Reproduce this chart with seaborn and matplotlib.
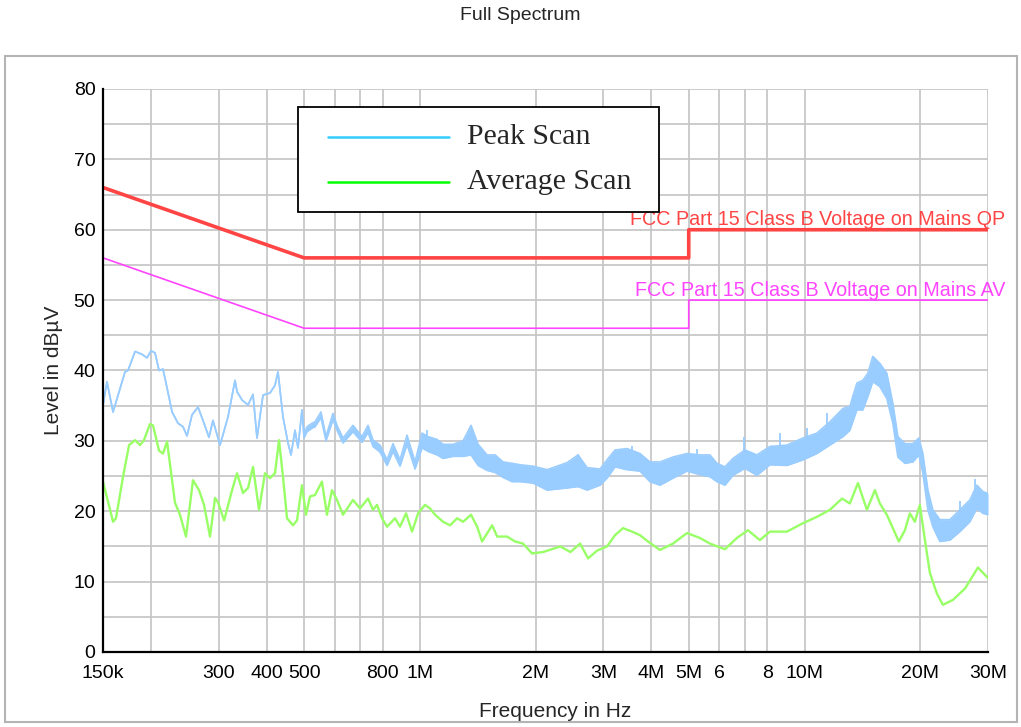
import numpy as np
import matplotlib
matplotlib.use('Agg')
import matplotlib.pyplot as plt
from matplotlib.patches import Rectangle
from matplotlib.ticker import NullLocator, MultipleLocator
import seaborn as sns

# --- data (frequency in kHz, level in dBuV) ---
peak_khz = [150, 153.6, 159.3, 171.1, 174.2, 181.7, 189.4, 195.2, 200, 204.8,
            209.8, 214.8, 220.1, 226.8, 235.0, 242.2, 248.0, 255.6, 264.9, 272.9,
            282.9, 289.7, 302.2, 317.0, 330.6, 334.6, 344.8, 357.4, 368.2, 377.1,
            390.9, 407.6, 420.0, 427.6, 440.6, 454.0, 462.2, 473.4, 482.0, 493.6,
            499.6, 508.6, 524.1, 533.6, 553.1, 569.9, 594.3, 608.8, 631.0, 670.0,
            707.1, 733.0, 755.3, 787.6, 821.4, 851.4, 887.8, 925.8, 971.4,
            1013, 1050, 1108, 1149, 1220, 1295, 1358, 1417, 1495, 1569,
            1646, 1737, 1822, 1969, 2141, 2413, 2578, 2720, 2940, 3066,
            3216, 3455, 3734, 3964, 4209, 4550, 4948, 5347, 5677, 5920,
            6210, 6515, 6999, 7521, 8129, 9000, 9907, 10770, 11640, 12590,
            13120, 13680, 14180, 14610, 15050, 15700, 16370, 16970, 17490, 18240,
            19130, 19830, 20310, 20930, 21560, 22490, 23880, 25350, 26910, 28060,
            29090, 30000]
peak_hi = [35.1, 38.4, 34.1, 39.8, 40.0, 42.7, 42.3, 41.8, 42.8, 42.5,
           40.0, 40.2, 37.5, 34.1, 32.5, 32.0, 30.7, 33.7, 34.8, 32.9,
           30.5, 32.9, 29.4, 33.4, 38.6, 37.0, 35.8, 35.1, 36.6, 30.4,
           36.5, 36.8, 37.9, 39.8, 33.4, 29.7, 28.0, 31.5, 29.0, 34.4,
           31.0, 32.0, 32.5, 32.7, 34.1, 30.6, 33.9, 32.2, 30.4, 32.2,
           30.6, 32.2, 30.1, 29.4, 27.3, 29.6, 27.3, 30.8, 27.0,
           31.1, 30.6, 30.2, 29.5, 29.5, 30.0, 32.2, 29.5, 28.0, 28.0,
           27.0, 26.8, 26.6, 26.4, 25.9, 26.9, 28.0, 26.2, 26.0, 27.3,
           28.7, 28.9, 28.2, 27.0, 27.0, 27.7, 28.2, 28.0, 28.0, 26.8,
           26.3, 27.5, 28.7, 28.0, 29.2, 29.4, 30.4, 31.1, 32.7, 34.6,
           34.9, 38.2, 38.6, 39.6, 42.0, 41.0, 39.6, 35.3, 30.6, 29.6,
           29.6, 30.4, 28.2, 23.0, 20.2, 18.8, 18.8, 20.2, 21.6, 23.7,
           22.8, 22.5]
peak_lo = [35.1, 38.4, 34.1, 39.8, 40.0, 42.7, 42.3, 41.8, 42.8, 42.5,
           40.0, 40.2, 37.5, 34.1, 32.5, 32.0, 30.7, 33.7, 34.8, 32.9,
           30.5, 32.9, 29.4, 33.4, 38.6, 37.0, 35.8, 35.1, 36.6, 30.4,
           36.5, 36.8, 37.9, 39.8, 33.4, 29.7, 28.0, 31.5, 29.0, 34.4,
           30.4, 31.3, 31.8, 32.0, 33.3, 30.0, 33.0, 31.5, 29.7, 31.3,
           29.8, 31.2, 29.2, 28.4, 26.5, 28.5, 26.4, 29.5, 26.0,
           29.0, 28.5, 28.0, 27.5, 27.8, 27.8, 28.0, 26.5, 25.8, 25.5,
           24.8, 24.2, 24.2, 24.0, 23.0, 23.3, 23.5, 23.0, 23.7, 24.7,
           26.3, 25.9, 25.7, 24.2, 23.7, 24.7, 25.7, 25.2, 24.9, 24.2,
           23.7, 25.1, 26.1, 25.1, 26.6, 26.5, 27.3, 28.2, 29.4, 30.6,
           31.5, 34.4, 34.4, 36.3, 38.4, 37.7, 36.0, 32.5, 27.7, 26.8,
           27.0, 28.0, 25.4, 20.2, 17.8, 15.7, 15.9, 17.1, 18.5, 20.4,
           19.7, 19.5]

# narrow noise spikes sticking out of the peak band
spike_khz = [1044, 2578, 3561, 5262, 6958, 8630, 10150, 11430, 13370, 25350, 27740]
spike_base = [29.0, 25.0, 26.5, 26.0, 27.0, 28.0, 29.0, 31.0, 33.0, 18.0, 21.0]
spike_top = [31.5, 28.2, 29.3, 28.8, 30.5, 31.1, 31.8, 34.0, 36.5, 21.5, 24.6]

avg_khz = [150, 159.3, 162.1, 169.1, 175.3, 181.7, 187.2, 191.7, 198.7, 202.3,
           209.8, 214.8, 220.1, 230.8, 237.8, 246.5, 257.1, 266.5, 274.6, 284.6,
           293.4, 298.8, 309.7, 324.8, 334.6, 346.8, 357.4, 368.2, 381.7, 395.6,
           407.6, 420.0, 430.2, 440.6, 451.3, 467.8, 479.2, 493.6, 505.6, 517.9,
           533.6, 556.3, 573.3, 590.7, 608.8, 631.0, 670.0, 698.7, 733.0, 755.3,
           773.6, 797.1, 821.4, 861.6, 887.8, 920.3, 954.3, 989.2, 1031, 1062,
           1095, 1149, 1198, 1250, 1295, 1358, 1409, 1451, 1541, 1588,
           1685, 1767, 1854, 1957, 2090, 2318, 2462, 2609, 2737, 2888,
           3066, 3216, 3374, 3561, 3734, 3917, 4209, 4550, 4948, 5347,
           5677, 6210, 6672, 7127, 7655, 8129, 9000, 9907, 10770, 11640,
           12520, 13120, 13770, 14530, 15240, 15700, 16370, 16970, 17590, 18240,
           18790, 19360, 19950, 20560, 21190, 22090, 22900, 24310, 26130, 28240,
           30000]
avg_level = [24.2, 18.5, 19.0, 24.9, 29.4, 30.1, 29.4, 30.1, 32.4, 32.2,
             28.6, 28.2, 29.9, 21.2, 19.5, 16.4, 24.4, 23.0, 20.9, 16.4,
             21.9, 21.2, 18.7, 23.0, 25.4, 22.6, 23.3, 26.3, 20.2, 25.4,
             24.7, 25.4, 30.1, 24.9, 19.0, 18.0, 18.7, 23.7, 19.5, 22.1,
             22.3, 24.2, 19.5, 23.0, 21.6, 19.5, 21.6, 20.4, 21.8, 20.2,
             20.9, 19.0, 17.8, 19.0, 17.8, 19.7, 17.1, 19.7, 20.9, 20.4,
             19.5, 18.5, 18.0, 19.0, 18.5, 19.5, 17.8, 15.7, 18.0, 16.4,
             16.4, 15.7, 15.4, 14.0, 14.2, 15.0, 14.2, 15.4, 13.3, 14.4,
             15.0, 16.6, 17.6, 17.1, 16.6, 15.7, 14.5, 15.4, 16.9, 16.2,
             15.4, 14.6, 16.2, 17.3, 15.9, 17.1, 17.1, 18.3, 19.2, 20.2,
             21.8, 21.1, 24.0, 20.2, 23.0, 21.1, 19.5, 17.6, 15.7, 17.3,
             19.7, 18.5, 20.9, 15.9, 11.2, 8.3, 6.7, 7.4, 9.0, 12.0,
             10.5]

qp_khz = [150, 500, 5000, 5000, 30000]
qp_level = [66, 56, 56, 60, 60]
av_khz = [150, 500, 5000, 5000, 30000]
av_level = [56, 46, 46, 50, 50]

tick_khz = [150, 200, 300, 400, 500, 600, 700, 800, 1000, 2000, 3000, 4000,
            5000, 6000, 7000, 8000, 10000, 20000, 30000]
tick_labels = ['150k', '', '300', '400', '500', '', '', '800', '1M', '2M', '3M', '4M',
               '5M', '6', '', '8', '10M', '20M', '30M']

peak_color = '#99CCFF'
avg_color = '#99FF66'
qp_color = '#FF4444'
av_color = '#FF44FF'

sns.set_theme(style='white')
plt.rcParams['font.family'] = ['Liberation Sans', 'DejaVu Sans']

fig = plt.figure(figsize=(10.21, 7.27), dpi=100)
ax = fig.add_axes([0.1009, 0.1032, 0.8668, 0.7744])

hz = lambda v: np.array(v) * 1e3

# peak scan: noise band between upper and lower envelope
ax.fill_between(hz(peak_khz), peak_lo, peak_hi, color=peak_color, lw=0)
sns.lineplot(x=hz(peak_khz), y=peak_hi, ax=ax, color=peak_color, lw=1.2, sort=False, estimator=None)
sns.lineplot(x=hz(peak_khz), y=peak_lo, ax=ax, color=peak_color, lw=1.2, sort=False, estimator=None)
ax.vlines(hz(spike_khz), spike_base, spike_top, color=peak_color, lw=1.3)

sns.lineplot(x=hz(avg_khz), y=avg_level, ax=ax, color=avg_color, lw=1.7, sort=False, estimator=None)

sns.lineplot(x=hz(qp_khz), y=qp_level, ax=ax, color=qp_color, lw=2.6, sort=False, estimator=None)
sns.lineplot(x=hz(av_khz), y=av_level, ax=ax, color=av_color, lw=1.2, sort=False, estimator=None)

ax.set_xscale('log')
ax.set_xlim(150e3, 30e6)
ax.set_ylim(0, 80)

ax.set_xticks(hz(tick_khz))
ax.set_xticklabels(tick_labels)
ax.xaxis.set_minor_locator(NullLocator())
ax.yaxis.set_major_locator(MultipleLocator(10))
ax.yaxis.set_minor_locator(MultipleLocator(5))

ax.grid(True, which='major', color='#C4C4C4', lw=1.2)
ax.grid(True, which='minor', axis='y', color='#C4C4C4', lw=1.2)
ax.set_axisbelow(True)

for s in ['top', 'right']:
    ax.spines[s].set_visible(False)
for s in ['left', 'bottom']:
    ax.spines[s].set_color('black')
    ax.spines[s].set_linewidth(1.6)

ax.tick_params(axis='both', which='both', direction='inout', length=9, width=1.3,
               color='black', labelsize=14, labelcolor='black')
ax.tick_params(axis='x', pad=5)
ax.tick_params(axis='y', pad=1)

ax.set_xlabel('Frequency in Hz', fontsize=15)
ax.set_ylabel('Level in dB\u00b5V', fontsize=15)
ax.xaxis.set_label_coords(0.511, -0.105)
ax.xaxis.label.set_va('center')
ax.yaxis.set_label_coords(-0.0555, 0.5)
ax.yaxis.label.set_va('center')

# limit labels
ax.text(33.2e6, 60.7, 'FCC Part 15 Class B Voltage on Mains QP', color=qp_color,
        fontsize=14.2, ha='right', va='baseline', clip_on=False)
ax.text(33.2e6, 50.6, 'FCC Part 15 Class B Voltage on Mains AV', color=av_color,
        fontsize=14.2, ha='right', va='baseline', clip_on=False)

# legend box
ax.add_patch(Rectangle((0.2203, 0.7815), 0.4079, 0.1865, transform=ax.transAxes,
                       facecolor='white', edgecolor='black', lw=1.3, zorder=5))
ax.plot([0.2542, 0.391], [0.9147, 0.9147], transform=ax.transAxes, color='#33CCFF', lw=1.8, zorder=6)
ax.plot([0.2542, 0.391], [0.8348, 0.8348], transform=ax.transAxes, color='#00FF00', lw=1.8, zorder=6)
ax.text(0.4113, 0.9147, 'Peak Scan', transform=ax.transAxes, fontsize=21.5,
        family='Liberation Serif', va='center', ha='left', zorder=6)
ax.text(0.4113, 0.8348, 'Average Scan', transform=ax.transAxes, fontsize=21.5,
        family='Liberation Serif', va='center', ha='left', zorder=6)

fig.text(0.51, 0.978, 'Full Spectrum', fontsize=14, ha='center', va='center')
fig.patches.append(Rectangle((5 / 1021, 5 / 727), 1012 / 1021, 666 / 727,
                             transform=fig.transFigure, fill=False,
                             edgecolor='#B4B4B4', lw=1.5))

fig.savefig('out.png', dpi=100)
